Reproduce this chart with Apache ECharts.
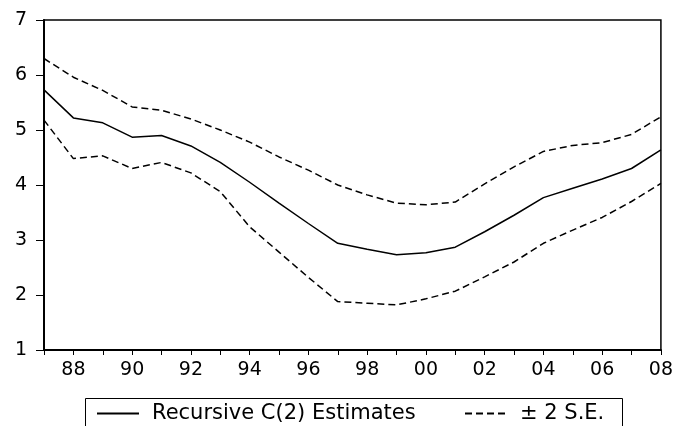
<!DOCTYPE html>
<html>
<head>
<meta charset="utf-8">
<script src="https://cdn.jsdelivr.net/npm/echarts@6/dist/echarts.min.js"></script>
<style>
html,body{margin:0;padding:0;background:#fff;}
#chart{width:676px;height:426px;}
</style>
</head>
<body>
<div id="chart"></div>
<script>
const years = ['87','88','89','90','91','92','93','94','95','96','97','98','99','00','01','02','03','04','05','06','07','08'];
const estimates = [5.73, 5.22, 5.13, 4.87, 4.90, 4.71, 4.41, 4.05, 3.67, 3.30, 2.94, 2.83, 2.73, 2.77, 2.87, 3.15, 3.45, 3.77, 3.94, 4.11, 4.30, 4.64];
const upperBand = [6.30, 5.96, 5.72, 5.42, 5.36, 5.20, 5.00, 4.78, 4.51, 4.27, 4.00, 3.82, 3.67, 3.64, 3.69, 4.02, 4.33, 4.61, 4.72, 4.77, 4.92, 5.24];
const lowerBand = [5.18, 4.48, 4.53, 4.30, 4.41, 4.22, 3.88, 3.24, 2.78, 2.32, 1.88, 1.85, 1.82, 1.93, 2.07, 2.33, 2.60, 2.94, 3.18, 3.41, 3.70, 4.03];
const yTicks = [1, 2, 3, 4, 5, 6, 7];
const estName = 'Recursive C(2) Estimates';
const seName = '± 2 S.E.';

const font = 'DejaVu Sans';
const chart = echarts.init(document.getElementById('chart'), null, {renderer: 'canvas'});
const dash = [7, 4];
const legendText = {color: '#000', fontFamily: font, fontSize: 21};
chart.setOption({
  animation: false,
  backgroundColor: '#fff',
  grid: {left: 44, right: 13, top: 20, bottom: 76, show: true, borderColor: '#000', borderWidth: 1.5, containLabel: false},
  xAxis: {
    type: 'category', data: years, boundaryGap: false,
    axisLine: {lineStyle: {color: '#000', width: 2}},
    axisTick: {show: true, interval: 0, length: 5, lineStyle: {color: '#000', width: 1}},
    axisLabel: {interval: function (i) { return i % 2 === 1; }, color: '#000', fontFamily: font, fontSize: 19, margin: 11},
    splitLine: {show: false}
  },
  yAxis: {
    type: 'value', min: yTicks[0], max: yTicks[yTicks.length - 1], interval: 1,
    axisLine: {show: true, lineStyle: {color: '#000', width: 2}},
    axisTick: {show: true, length: 8, lineStyle: {color: '#000', width: 1}},
    axisLabel: {color: '#000', fontFamily: font, fontSize: 19, margin: 17},
    splitLine: {show: false}
  },
  legend: [
    {left: 96, top: 403, padding: 0, itemWidth: 42, itemHeight: 14, data: [estName],
     itemStyle: {color: 'transparent', borderWidth: 0, opacity: 0},
     textStyle: Object.assign({padding: [0, 0, 0, 8]}, legendText)},
    {left: 464, top: 403, padding: 0, itemWidth: 44, itemHeight: 14, data: [seName],
     itemStyle: {color: 'transparent', borderWidth: 0, opacity: 0},
     textStyle: Object.assign({padding: [0, 0, 0, 6]}, legendText)}
  ],
  graphic: [{type: 'rect', shape: {x: 85.5, y: 398.5, width: 537, height: 40},
    style: {fill: null, stroke: '#000', lineWidth: 1}, silent: true}],
  series: [
    {name: estName, type: 'line', data: estimates, symbol: 'none', lineStyle: {color: '#000', width: 1.5}, itemStyle: {color: '#000'}},
    {name: seName, type: 'line', data: upperBand, symbol: 'none', lineStyle: {color: '#000', width: 1.5, type: dash}, itemStyle: {color: '#000'}},
    {name: seName, type: 'line', data: lowerBand, symbol: 'none', lineStyle: {color: '#000', width: 1.5, type: dash}, itemStyle: {color: '#000'}}
  ]
});
</script>
</body>
</html>
